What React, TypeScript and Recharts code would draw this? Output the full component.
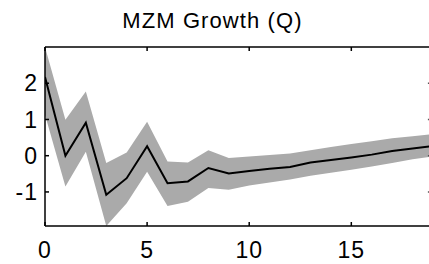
import { ComposedChart, Area, Line, XAxis, YAxis, ReferenceLine } from 'recharts';

const steps = [0, 1, 2, 3, 4, 5, 6, 7, 8, 9, 10, 11, 12, 13, 14, 15, 16, 17, 18, 19];
const median = [2.17, 0.0, 0.91, -1.08, -0.62, 0.26, -0.76, -0.71, -0.34, -0.49, -0.42, -0.36, -0.31, -0.19, -0.12, -0.05, 0.03, 0.13, 0.2, 0.27];
const upper = [3.0, 0.99, 1.77, -0.2, 0.09, 0.94, -0.16, -0.19, 0.15, -0.06, -0.02, 0.02, 0.06, 0.15, 0.24, 0.32, 0.4, 0.48, 0.54, 0.6];
const lower = [1.13, -0.85, 0.11, -1.94, -1.31, -0.44, -1.39, -1.27, -0.89, -0.94, -0.82, -0.74, -0.66, -0.55, -0.47, -0.39, -0.3, -0.2, -0.1, -0.02];
const xTicks = [0, 5, 10, 15];
const yTicks = [-1, 0, 1, 2];
const title = 'MZM Growth (Q)';

const data = steps.map((s, i) => ({ step: s, mid: median[i], band: [lower[i], upper[i]] }));

const xDomain = [0, 19];
const yDomain = [-1.94, 3.0];
const rightTickLen = 0.25; // x units, ~5px
const font = '"Liberation Sans", Arial, Helvetica, sans-serif';
const tickStyle = { fill: '#000', fontSize: 23, fontFamily: font, letterSpacing: 1 };
const blank = () => '';

export default function App() {
  return (
    <div style={{ position: 'fixed', left: 0, top: 0, width: 429, height: 264, overflow: 'hidden', background: '#fff' }}>
      <div
        style={{
          position: 'absolute',
          left: 0,
          top: 10,
          width: 425,
          textAlign: 'center',
          fontFamily: font,
          fontSize: 22,
          lineHeight: '22px',
          letterSpacing: 1.1,
          color: '#000',
        }}
      >
        {title}
      </div>
      <ComposedChart width={445} height={264} data={data} margin={{ top: 27, right: 12, bottom: 0, left: 0 }}>
        {/* top frame, ticks only */}
        <XAxis
          xAxisId="top"
          orientation="top"
          dataKey="step"
          type="number"
          domain={xDomain}
          ticks={xTicks}
          height={20}
          stroke="#000"
          strokeWidth={1.5}
          tickSize={-4}
          tickFormatter={blank}
        />
        <XAxis
          xAxisId="bottom"
          dataKey="step"
          type="number"
          domain={xDomain}
          ticks={xTicks}
          height={38}
          stroke="#000"
          strokeWidth={1.5}
          tickSize={-4}
          tickMargin={20}
          tick={tickStyle}
          allowDataOverflow
        />
        <YAxis
          yAxisId="left"
          type="number"
          domain={yDomain}
          ticks={yTicks}
          width={45}
          stroke="#000"
          strokeWidth={1.5}
          tickSize={-4}
          tickMargin={11}
          tick={tickStyle}
          allowDataOverflow
        />
        <Area
          xAxisId="bottom"
          yAxisId="left"
          type="linear"
          dataKey="band"
          stroke="none"
          fill="#aaaaaa"
          fillOpacity={1}
          isAnimationActive={false}
        />
        <Line
          xAxisId="bottom"
          yAxisId="left"
          type="linear"
          dataKey="mid"
          stroke="#000"
          strokeWidth={2}
          dot={false}
          isAnimationActive={false}
        />
        {/* right frame ticks */}
        {yTicks.map((t) => (
          <ReferenceLine
            key={t}
            xAxisId="bottom"
            yAxisId="left"
            segment={[
              { x: xDomain[1], y: t },
              { x: xDomain[1] - rightTickLen, y: t },
            ]}
            stroke="#555"
            strokeWidth={1.5}
            ifOverflow="visible"
          />
        ))}
      </ComposedChart>
    </div>
  );
}
